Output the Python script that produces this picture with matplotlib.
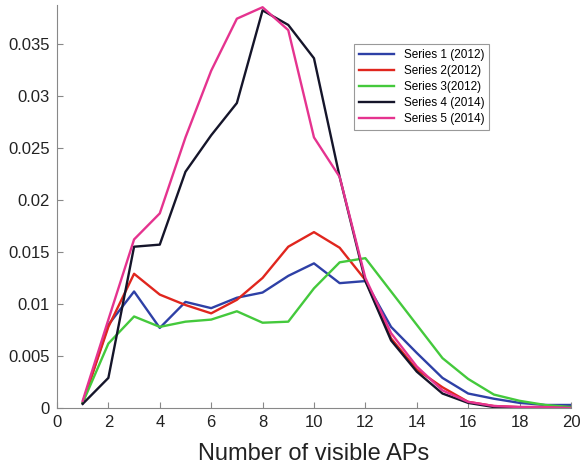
import numpy as np
import matplotlib.pyplot as plt

plt.rcParams['font.family'] = ['Liberation Sans', 'DejaVu Sans']

x = np.arange(1, 21)
s1 = [0.0005, 0.0080, 0.0112, 0.0077, 0.0102, 0.0096, 0.0106, 0.0111, 0.0127, 0.0139,
      0.0120, 0.0122, 0.0078, 0.0053, 0.0029, 0.0014, 0.0009, 0.0005, 0.0003, 0.0003]
s2 = [0.0005, 0.0078, 0.0129, 0.0109, 0.0099, 0.0091, 0.0104, 0.0125, 0.0155, 0.0169,
      0.0154, 0.0123, 0.0067, 0.0037, 0.0020, 0.0006, 0.0002, 0.0001, 0.0001, 0.0001]
s3 = [0.0005, 0.0062, 0.0088, 0.0078, 0.0083, 0.0085, 0.0093, 0.0082, 0.0083, 0.0115,
      0.0140, 0.0144, 0.0112, 0.0080, 0.0048, 0.0028, 0.0013, 0.0007, 0.0003, 0.0001]
s4 = [0.0004, 0.0029, 0.0155, 0.0157, 0.0227, 0.0262, 0.0293, 0.0382, 0.0368, 0.0336,
      0.0222, 0.0122, 0.0065, 0.0035, 0.0014, 0.0005, 0.0001, 0.0, 0.0, 0.0]
s5 = [0.0007, 0.0085, 0.0162, 0.0187, 0.0260, 0.0324, 0.0374, 0.0385, 0.0363, 0.0260,
      0.0222, 0.0125, 0.0072, 0.0040, 0.0017, 0.0006, 0.0002, 0.0001, 0.0001, 0.0]
labels = ['Series 1 (2012)', 'Series 2(2012)', 'Series 3(2012)', 'Series 4 (2014)', 'Series 5 (2014)']
colors = ['#2e40a6', '#e0261e', '#44c93c', '#15152a', '#e5338f']

fig = plt.figure(figsize=(5.85, 4.68), dpi=100)
ax = fig.add_axes([0.0974, 0.128, 0.8786, 0.861])

for y, lab, c in zip([s1, s2, s3, s4, s5], labels, colors):
    ax.plot(x, y, color=c, lw=1.7, label=lab)

ax.set_xlim(0, 20)
ax.set_ylim(0, 0.0387)
ax.set_xticks(np.arange(0, 21, 2))
ax.set_yticks(np.arange(0, 0.0351, 0.005))
ax.set_yticklabels(['0', '0.005', '0.01', '0.015', '0.02', '0.025', '0.03', '0.035'])
ax.tick_params(direction='in', length=4, color='#888888', labelsize=12, labelcolor='#222222', pad=5)
for sp in ['top', 'right']:
    ax.spines[sp].set_visible(False)
for sp in ['left', 'bottom']:
    ax.spines[sp].set_color('#888888')
ax.set_xlabel('Number of visible APs', fontsize=17, color='#222222', labelpad=9)

leg = ax.legend(loc='upper left', bbox_to_anchor=(0.578, 0.903), borderaxespad=0,
                fontsize=8.5, handlelength=3, labelspacing=0.35, fancybox=False,
                framealpha=1, edgecolor='#999999')
leg.get_frame().set_linewidth(0.8)

fig.savefig('out.png')
